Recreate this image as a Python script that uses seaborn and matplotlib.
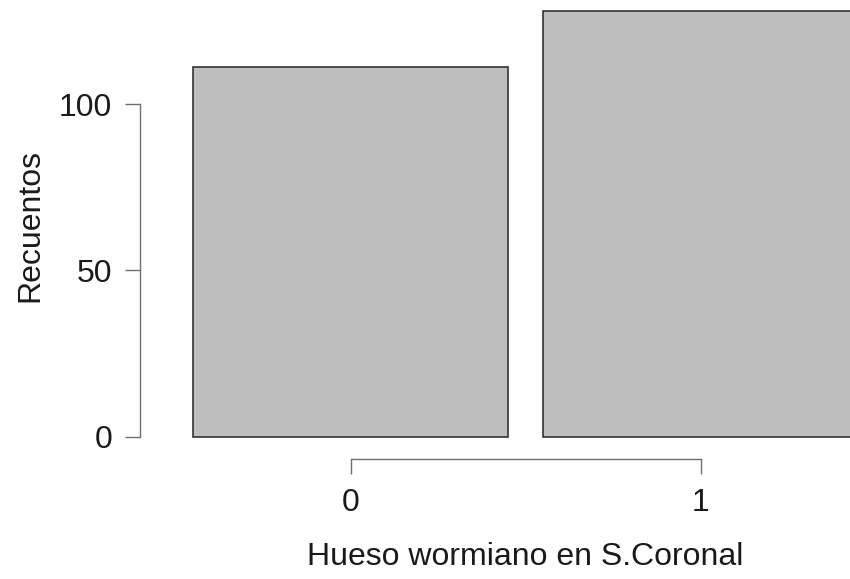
import matplotlib
matplotlib.use("Agg")
import matplotlib.pyplot as plt
import seaborn as sns
import pandas as pd

categories = ["0", "1"]
counts = [111, 128]
y_ticks = [0, 50, 100]

df = pd.DataFrame({"cat": categories, "n": counts})

sns.set_style("white")
plt.rcParams["font.family"] = ["Liberation Sans", "DejaVu Sans"]

W, H = 850, 579
fig = plt.figure(figsize=(W / 100, H / 100), dpi=100)
ax = fig.add_axes([0, 0, 1, 1])
ax.patch.set_alpha(0)

sns.barplot(data=df, x="cat", y="n", order=categories, width=0.9,
            color="#BEBEBE", saturation=1, edgecolor="#333333",
            linewidth=1.2, ax=ax, zorder=2)

# pixel-to-data mapping: category spacing 350 px, 3.325 px per count
px_per_cat = 350.0
cx0 = 350.5
px_per_unit = 3.325
y0_px = 436.5
ax.set_xlim((0 - cx0) / px_per_cat, (W - cx0) / px_per_cat)
ax.set_ylim(-(H - y0_px) / px_per_unit, y0_px / px_per_unit)

for s in ["top", "right"]:
    ax.spines[s].set_visible(False)
axis_col = "#6e6e6e"
ax.spines["left"].set_position(("data", (140 - cx0) / px_per_cat))
ax.spines["left"].set_bounds(0, 100)
ax.spines["bottom"].set_position(("data", -(458.5 - y0_px) / px_per_unit))
ax.spines["bottom"].set_bounds(0, 1)
for s in ["left", "bottom"]:
    ax.spines[s].set_visible(True)
    ax.spines[s].set_color(axis_col)
    ax.spines[s].set_linewidth(1.0)

ax.set_yticks(y_ticks)
ax.set_yticklabels([str(t) for t in y_ticks])
ax.set_xticks([0, 1])
ax.set_xticklabels(categories)
ax.tick_params(axis="both", which="major", length=11, width=1.0,
               color=axis_col, labelsize=23, labelcolor="#1a1a1a",
               direction="out", left=True, bottom=True)
ax.tick_params(axis="y", pad=9)
ax.tick_params(axis="x", pad=10)
ax.set_xlabel("")
ax.set_ylabel("")

fig.text(30 / W, 1 - 225 / H, "Recuentos", rotation=90, fontsize=23,
         color="#1a1a1a", ha="center", va="center")
fig.text(525 / W, 1 - 557 / H, "Hueso wormiano en S.Coronal", fontsize=23,
         color="#1a1a1a", ha="center", va="center")

fig.savefig("out.png", dpi=100)
